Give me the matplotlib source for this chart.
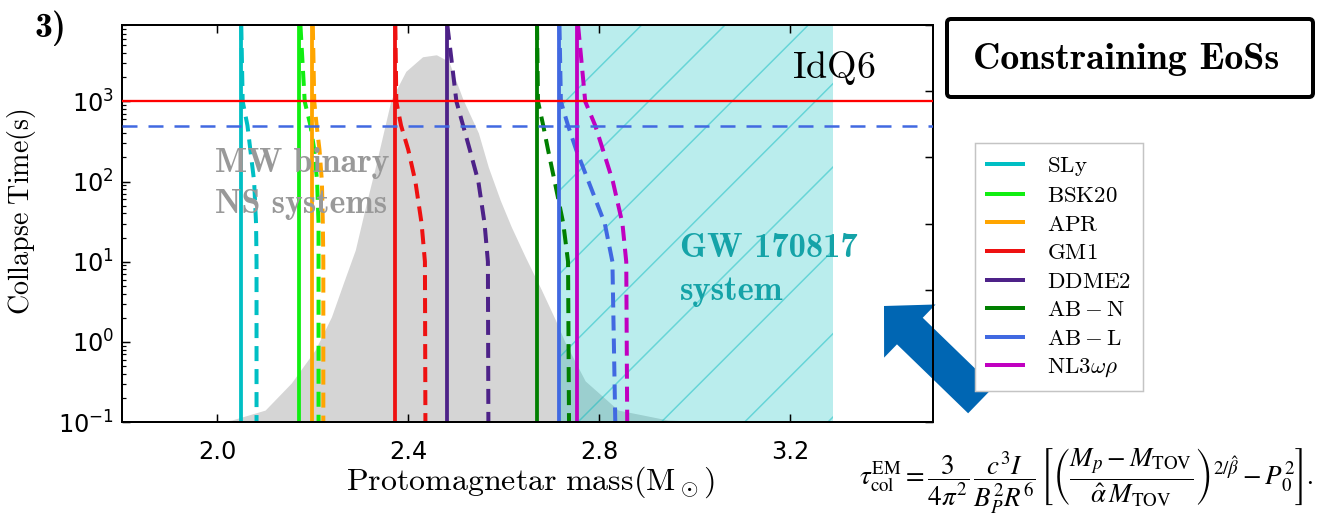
import os
import matplotlib
matplotlib.use('Agg')
import matplotlib.pyplot as plt
from matplotlib.lines import Line2D
from matplotlib.patches import FancyArrow, FancyBboxPatch
from matplotlib.transforms import IdentityTransform
from matplotlib.font_manager import FontProperties

W, H = 1328, 525
DPI = 250          # high dpi so the '/' hatch spacing matches the reference
PX = 72.0 / DPI    # one output pixel expressed in points

plt.rcParams['lines.scale_dashes'] = False
plt.rcParams['hatch.linewidth'] = 1.5 * PX

CMB = os.path.join(matplotlib.get_data_path(), 'fonts', 'ttf', 'cmb10.ttf')

# ---- data ----
eos_labels = [r'$\mathrm{SLy}$', r'$\mathrm{BSK20}$', r'$\mathrm{APR}$', r'$\mathrm{GM1}$',
              r'$\mathrm{DDME2}$', r'$\mathrm{AB-N}$', r'$\mathrm{AB-L}$',
              r'$\mathrm{NL3}\omega\rho$']
eos_colors = ['#00bfc4', '#11ee11', '#ffa500', '#ee1111', '#4d2288', '#007f00', '#4169e1', '#c000c0']
m_solid = [2.050, 2.172, 2.199, 2.373, 2.482, 2.670, 2.716, 2.754]

# dashed curves: mass at each collapse time
t_dash = [9000, 1000, 500, 250, 100, 30, 10, 0.1]
m_dash_sly = [2.050, 2.053, 2.063, 2.069, 2.077, 2.081, 2.082, 2.082]
m_dash_bsk20 = [2.174, 2.183, 2.195, 2.203, 2.209, 2.212, 2.212, 2.212]
m_dash_apr = [2.200, 2.203, 2.208, 2.214, 2.219, 2.221, 2.222, 2.222]
m_dash_gm1 = [2.373, 2.375, 2.385, 2.400, 2.415, 2.428, 2.435, 2.436]
m_dash_ddme2 = [2.482, 2.501, 2.515, 2.529, 2.547, 2.560, 2.567, 2.568]
m_dash_abn = [2.670, 2.672, 2.683, 2.693, 2.707, 2.725, 2.735, 2.737]
m_dash_abl = [2.717, 2.720, 2.735, 2.752, 2.778, 2.812, 2.828, 2.834]
m_dash_nl3 = [2.756, 2.771, 2.792, 2.808, 2.829, 2.849, 2.857, 2.859]

# MW binary NS mass distribution (arbitrary units, right axis)
dist_mass = [2.000, 2.030, 2.100, 2.155, 2.205, 2.239, 2.264, 2.289, 2.312, 2.331, 2.364,
             2.395, 2.430, 2.459, 2.485, 2.515, 2.547, 2.568, 2.593, 2.616, 2.645, 2.679,
             2.708, 2.729, 2.771, 2.840, 2.944, 3.050]
dist_height = [0.00, 0.03, 0.18, 0.59, 1.09, 1.59, 2.10, 2.60, 3.30, 3.85, 4.87,
               5.30, 5.52, 5.55, 5.45, 4.87, 4.37, 3.85, 3.35, 2.95, 2.50, 2.00,
               1.55, 1.20, 0.62, 0.18, 0.03, 0.00]

gw_band = (2.715, 3.29)
t_em_limit = 1000      # red line
t_xray_limit = 500     # blue dashed line

# ---- figure ----
fig = plt.figure(figsize=(W / DPI, H / DPI), dpi=DPI)
ax = fig.add_axes([122 / W, 1 - 422 / H, 811 / W, 397 / H])
ax2 = ax.twinx()
ax.set_zorder(ax2.get_zorder() + 1)
ax.patch.set_visible(False)

ax2.fill_between(dist_mass, 0, dist_height, color='#d5d5d5', lw=0)
ax2.set_ylim(0, 6)
ax2.set_yticks(range(7))
ax2.tick_params(axis='y', direction='in', length=8 * PX, width=1.5 * PX, labelright=False)

ax.axvspan(*gw_band, facecolor=(0.0, 0.75, 0.75, 0.27), edgecolor=(0.0, 0.72, 0.74, 0.45),
           hatch='/', lw=0, zorder=0.5)

dashed_sets = [m_dash_sly, m_dash_bsk20, m_dash_apr, m_dash_gm1,
               m_dash_ddme2, m_dash_abn, m_dash_abl, m_dash_nl3]
handles = []
for m0, md, col in zip(m_solid, dashed_sets, eos_colors):
    ax.axvline(m0, color=col, lw=3.8 * PX, zorder=2)
    ax.plot(md, t_dash, color=col, lw=4 * PX, dashes=(15 * PX, 8 * PX), zorder=2)
    handles.append(Line2D([], [], color=col, lw=4 * PX))

ax.axhline(t_em_limit, color='red', lw=2.3 * PX, zorder=3)
ax.axhline(t_xray_limit, color='royalblue', lw=2.5 * PX, dashes=(15 * PX, 11 * PX), zorder=3)

ax.set_yscale('log')
ax.set_ylim(0.1, 9000)
ax.set_xlim(1.8, 3.5)
ax.set_xticks([2.0, 2.4, 2.8, 3.2])
ax.tick_params(which='major', direction='in', length=8 * PX, width=1.5 * PX,
               labelsize=24 * PX, top=True, right=False)
ax.tick_params(which='minor', direction='in', length=4 * PX, width=1.2 * PX, right=False)
ax.tick_params(axis='x', pad=18 * PX)
ax.tick_params(axis='y', pad=8 * PX)
for a in (ax, ax2):
    for sp in a.spines.values():
        sp.set_linewidth(2 * PX)

ax.set_ylabel(r'$\mathrm{Collapse\ Time(s)}$', fontsize=28 * PX, math_fontfamily='cm')
ax.yaxis.set_label_coords(-0.1036, 0.529)
ax.set_xlabel(r'$\mathrm{Protomagnetar\ mass(M}_\odot\mathrm{)}$', fontsize=32 * PX,
              math_fontfamily='cm')
ax.xaxis.set_label_coords(0.503, -0.108)


def ftext(x, y, s, **kw):
    return fig.text(x / W, 1 - y / H, s, **kw)


def bold(size):
    return FontProperties(fname=CMB, size=size * PX)


ftext(35, 37, '3)', fontproperties=bold(36), va='baseline')
ftext(792, 78, r'$\mathrm{IdQ6}$', fontsize=38 * PX, math_fontfamily='cm', va='baseline', zorder=5)
ftext(215, 172, 'MW binary', fontproperties=bold(34), color='#999999', va='baseline', zorder=5)
ftext(215, 213, 'NS systems', fontproperties=bold(34), color='#999999', va='baseline', zorder=5)
ftext(680, 257, 'GW 170817', fontproperties=bold(34.5), color='#15a3a8', va='baseline', zorder=5)
ftext(680, 300, 'system', fontproperties=bold(34.5), color='#15a3a8', va='baseline', zorder=5)

# boxed title
fig.add_artist(FancyBboxPatch((947, H - 97), 366, 78, boxstyle='round,pad=0,rounding_size=4',
                              fill=False, ec='black', lw=4 * PX, transform=IdentityTransform()))
ftext(1126, 59, 'Constraining EoSs', fontproperties=bold(38), ha='center', va='center')

leg = fig.legend(handles, eos_labels, loc='upper left', bbox_to_anchor=(975 / W, 1 - 143 / H),
                 bbox_transform=fig.transFigure, borderaxespad=0,
                 prop=FontProperties(size=23 * PX, math_fontfamily='cm'),
                 handlelength=1.6, handletextpad=1.05, labelspacing=0.24, borderpad=0.5,
                 fancybox=False, framealpha=1)
leg.get_frame().set_edgecolor('#c4c4c4')
leg.get_frame().set_linewidth(1.5 * PX)

# big arrow pointing at the GW region
fig.add_artist(FancyArrow(981, H - 400, -97, 94, width=37, head_width=74, head_length=36,
                          length_includes_head=True, color='#0066b3', lw=0,
                          transform=IdentityTransform()))

formula = (r'$\tau^{\rm EM}_{\rm col} = \dfrac{3}{4\pi^2}\,\dfrac{c^3 I}{B_P^2 R^6}\,'
           r'\left[\left(\dfrac{M_p - M_{\rm TOV}}{\hat{\alpha}\,M_{\rm TOV}}\right)^{2/\hat{\beta}}'
           r' - P_0^2\right].$')
ftext(1086, 481, formula, fontsize=27 * PX, math_fontfamily='stix', ha='center', va='center')

fig.savefig('out.png', dpi=DPI)
